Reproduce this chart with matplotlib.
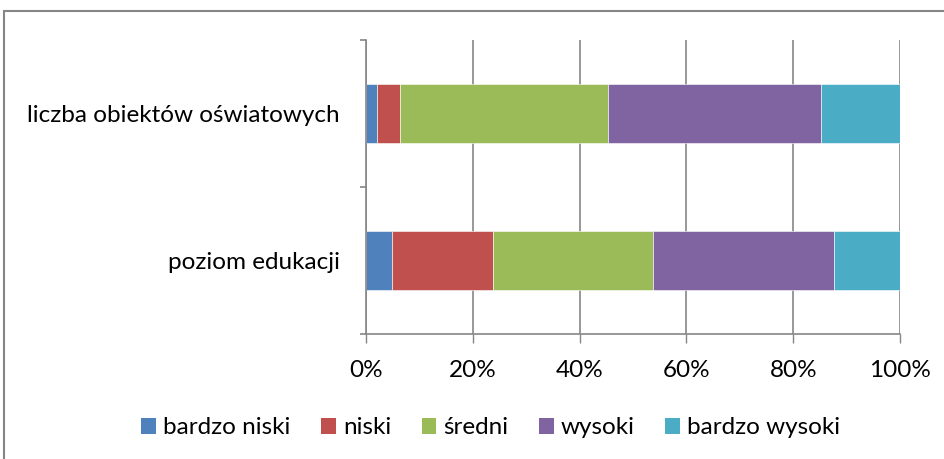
import matplotlib
matplotlib.use('Agg')
import matplotlib.pyplot as plt
from matplotlib.patches import Patch, Rectangle
import numpy as np

# data (percent shares per category, bottom row first)
categories = ["poziom edukacji", "liczba obiektów oświatowych"]
levels = ["bardzo niski", "niski", "średni", "wysoki", "bardzo wysoki"]
shares = {
    "bardzo niski": [4.9, 2.0],
    "niski": [18.9, 4.4],
    "średni": [29.9, 38.9],
    "wysoki": [33.9, 39.9],
    "bardzo wysoki": [12.4, 14.8],
}
colors = ["#4F81BD", "#C0504D", "#9BBB59", "#8064A2", "#4BACC6"]
xticks = [0, 20, 40, 60, 80, 100]

plt.rcParams['font.family'] = ['Lato', 'DejaVu Sans']
grey = '#868686'
fs = 17.5

fig = plt.figure(figsize=(9.44, 4.59), dpi=100)
ax = fig.add_axes([366 / 944, 1 - 334 / 459, 534 / 944, 294 / 459])

y = np.arange(len(categories))
left = np.zeros(len(categories))
for lvl, col in zip(levels, colors):
    vals = np.array(shares[lvl])
    ax.barh(y, vals, left=left, height=0.4, color=col,
            edgecolor='white', linewidth=0.4, zorder=3)
    left += vals

ax.set_xlim(0, 100)
ax.set_ylim(-0.5, 1.5)
ax.set_xticks(xticks)
ax.set_xticklabels([f"{t}%" for t in xticks], fontsize=fs)
ax.tick_params(axis='x', direction='out', length=6.5, width=1, color=grey, pad=12)
ax.grid(True, axis='x', color=grey, linewidth=1.2, zorder=0)

ax.set_yticks(y)
ax.set_yticklabels(categories, fontsize=fs)
ax.set_yticks([-0.5, 0.5, 1.5], minor=True)
ax.tick_params(axis='y', which='major', length=0, pad=19)
ax.tick_params(axis='y', which='minor', direction='out', length=4.5, width=1.2, color=grey)

for s in ['top', 'right']:
    ax.spines[s].set_visible(False)
for s in ['left', 'bottom']:
    ax.spines[s].set_color(grey)
    ax.spines[s].set_linewidth(1.2)
    ax.spines[s].set_zorder(4)

handles = [Patch(facecolor=c, edgecolor='none') for c in colors]
fig.legend(handles, levels, loc='center', bbox_to_anchor=(0.52, 1 - 428 / 459),
           ncol=5, frameon=False, fontsize=fs, handlelength=0.6, handleheight=0.6,
           handletextpad=0.3, columnspacing=1.25)

# outer chart border (cut off at right and bottom)
fig.patches.append(Rectangle((4 / 944, -0.05), 1.1, 1 - 11 / 459 + 0.05,
                             transform=fig.transFigure, fill=False,
                             edgecolor=grey, linewidth=1.5))

fig.savefig('out.png', dpi=100)
